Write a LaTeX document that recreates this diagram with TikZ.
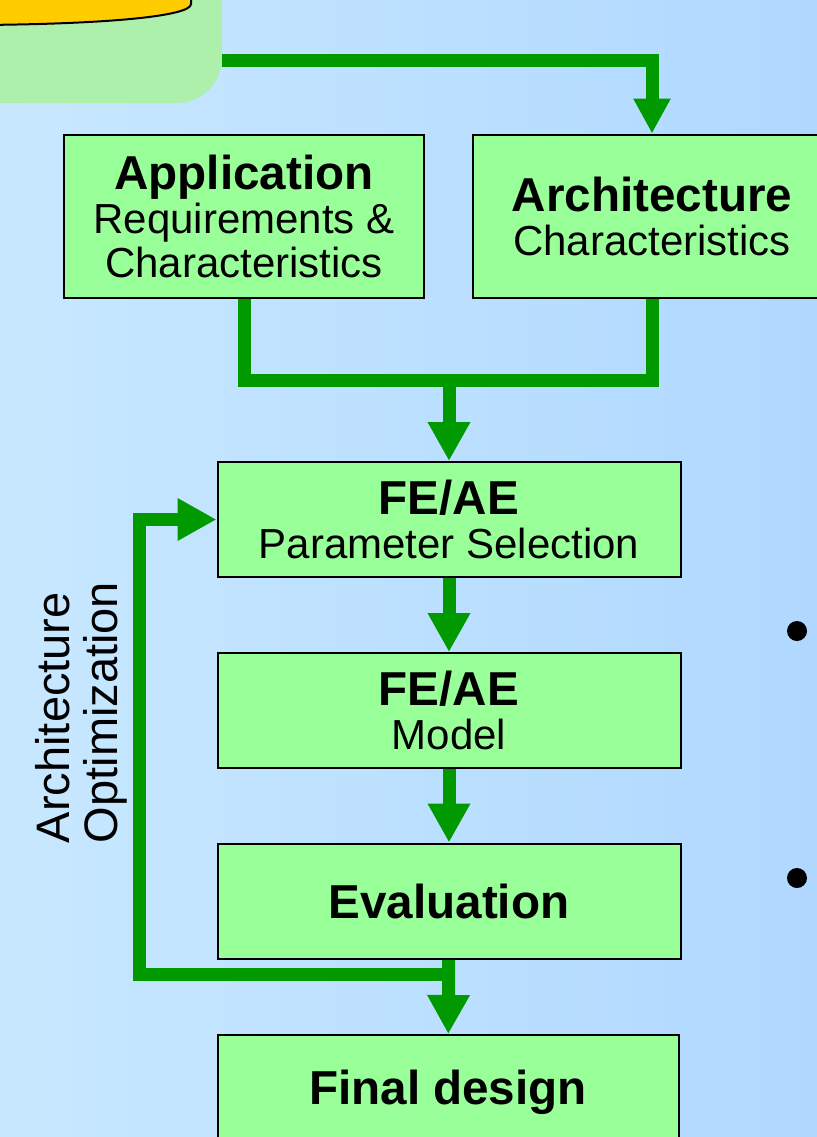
\documentclass[tikz,border=0pt]{standalone}
\usepackage{fontspec}
\setmainfont{Liberation Sans}
\usepackage{tikz}
\usetikzlibrary{arrows.meta}
\pgfdeclarelayer{backlayer}
\pgfdeclarelayer{edgelayer}
\pgfdeclarelayer{nodelayer}
\pgfsetlayers{backlayer,edgelayer,nodelayer,main}
\definecolor{boxgreen}{RGB}{153,255,153}
\definecolor{flowgreen}{RGB}{0,153,0}
\definecolor{panelgreen}{RGB}{172,240,172}
\definecolor{bgleft}{RGB}{200,232,255}
\definecolor{bgright}{RGB}{176,216,255}
\definecolor{dbyellow}{RGB}{255,204,0}
\tikzstyle{edge}=[draw=flowgreen, line width=6.5pt]
\tikzstyle{arrow}=[edge, -{Triangle[length=19.5pt, width=20pt]}]
\tikzstyle{box}=[rectangle, fill=boxgreen, draw=black, line width=1pt, inner sep=0pt, align=center, font=\fontsize{21}{22}\selectfont]
\tikzstyle{headbox}=[box, minimum width=180pt, minimum height=81.5pt]
\tikzstyle{stagebox}=[box, minimum width=231.5pt, minimum height=57.5pt]
\tikzstyle{dot}=[circle, fill=black, inner sep=0pt, minimum size=10pt]
\newcommand{\head}[1]{{\fontsize{23.8}{22}\selectfont\bfseries #1}}

\begin{document}
\begin{tikzpicture}[x=0.5pt, y=-0.5pt]
			\useasboundingbox (0, 0) rectangle (817, 1137);
			\begin{pgfonlayer}{backlayer}
			\shade [left color=bgleft, right color=bgright] (0, 0) rectangle (817, 1137);
			\fill [panelgreen, rounded corners=22.5pt] (-60, -60) rectangle (222, 103);
			\draw [fill=dbyellow, line width=1pt] (191, -20) -- (191, 4) .. controls (191, 16) and (110, 24) .. (-20, 25) -- (-20, -20) -- cycle;
			\end{pgfonlayer}
			\begin{pgfonlayer}{nodelayer}
			\node [style=headbox] (0) at (244, 216.5) {\head{Application}\\Requirements \&\\Characteristics};
			\node [style=headbox, minimum width=179pt] (1) at (652, 216) {\head{Architecture}\\Characteristics};
			\node [style=stagebox] (2) at (449, 519.5) {\head{FE/AE}\\Parameter Selection};
			\node [style=stagebox] (3) at (449, 710.5) {\head{FE/AE}\\Model};
			\node [style=stagebox] (4) at (449, 901) {\head{Evaluation}};
			\node [style=stagebox, minimum width=230.5pt, minimum height=57pt] (5) at (448, 1092) {\head{Final design}};
			\node [style=dot] (6) at (797, 631) {};
			\node [style=dot] (7) at (797, 878) {};
			\node [rotate=90, align=left, font=\fontsize{23.5}{24}\selectfont] (8) at (81, 712.5) {Architecture\\Optimization};
			\end{pgfonlayer}
			\begin{pgfonlayer}{edgelayer}
			\coordinate (9) at (222, 60);
			\coordinate (10) at (449, 380);
			\coordinate (11) at (449, 974.5);
			\coordinate (12) at (139.5, 519.5);
			\draw [style=arrow, -{Triangle[length=17.5pt, width=17.5pt]}] (9) -| (1);
			\draw [style=edge] (0) |- (10) -| (1);
			\draw [style=arrow] (10) to (2);
			\draw [style=arrow] (2) to (3);
			\draw [style=arrow] (3) to (4);
			\draw [style=arrow] (4) to (5);
			\draw [style=arrow] (11) -| (12) to (2);
			\end{pgfonlayer}
			\end{tikzpicture}
\end{document}
